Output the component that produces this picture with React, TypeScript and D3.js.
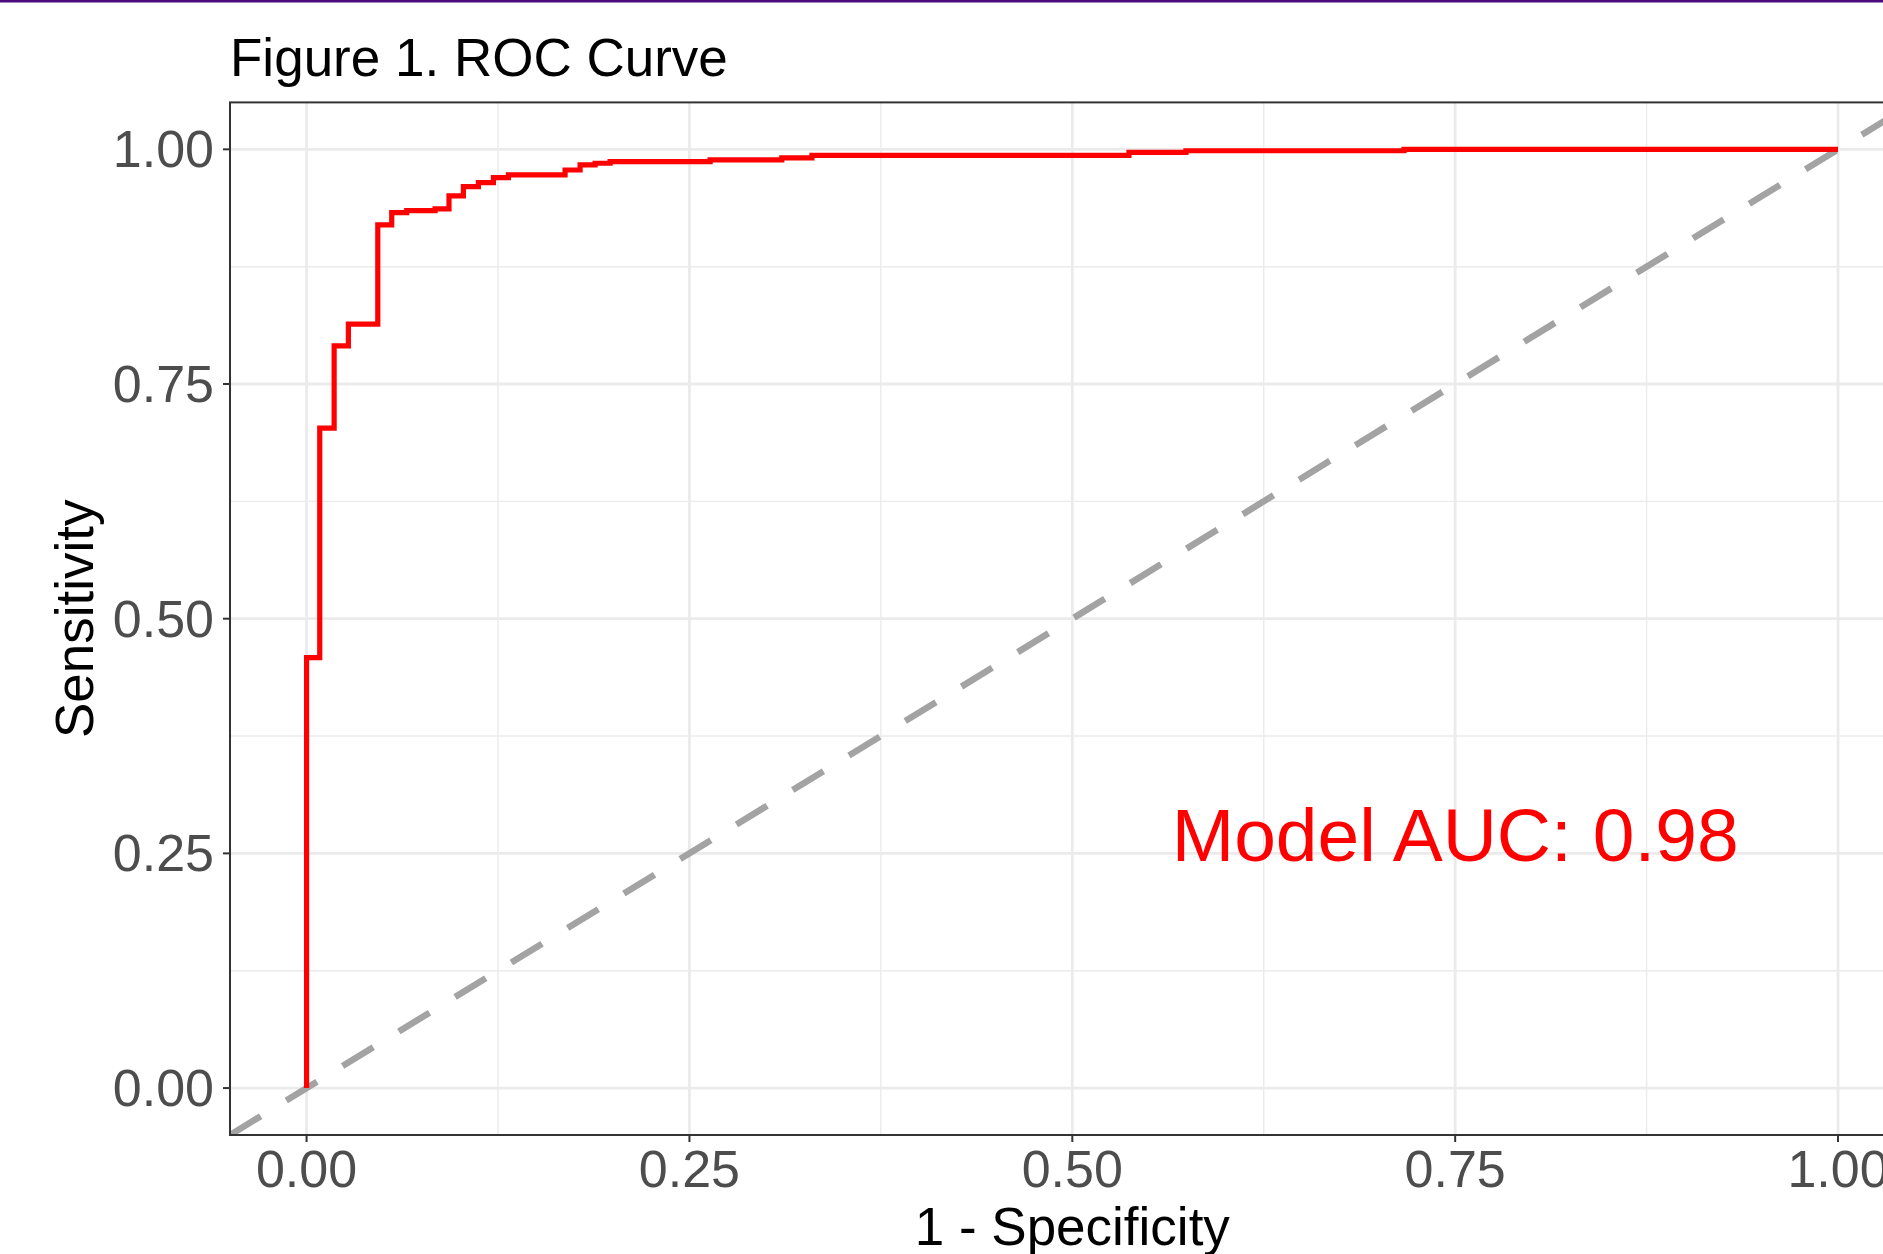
import { useEffect, useRef } from "react";
import * as d3 from "d3";

// ROC step corners (1 - specificity, sensitivity)
const fpr = [0, 0, 0.0086, 0.018, 0.0273, 0.0465, 0.0556, 0.0654, 0.0839, 0.093, 0.1024, 0.1122, 0.122, 0.1318, 0.1688, 0.1786, 0.1884, 0.1982, 0.2635, 0.3103, 0.33, 0.537, 0.5742, 0.7166, 1.0];
const tpr = [0, 0.4586, 0.703, 0.7906, 0.8138, 0.9195, 0.9326, 0.9347, 0.9365, 0.9504, 0.9603, 0.9645, 0.9699, 0.9727, 0.978, 0.9834, 0.9852, 0.987, 0.9887, 0.9908, 0.9935, 0.9968, 0.9985, 1.0, 1.0];

const majorTicks = [0, 0.25, 0.5, 0.75, 1];
const minorTicks = [0.125, 0.375, 0.625, 0.875];
const aucLabel = "Model AUC: 0.98";
const aucPos = [0.75, 0.27];
const diagonal = [-0.05, 1.2];

const FONT = "'Liberation Sans', Arial, Helvetica, sans-serif";

const App = () => {
  const ref = useRef<SVGSVGElement>(null);

  useEffect(() => {
    const width = 1883;
    const height = 1254;
    const left = 230;
    const right = 1914.6;
    const top = 102.4;
    const bottom = 1135;

    const x = d3.scaleLinear().domain([-0.05, 1.05]).range([left, right]);
    const y = d3.scaleLinear().domain([-0.05, 1.05]).range([bottom, top]);

    const svg = d3.select(ref.current)
      .attr("width", width)
      .attr("height", height)
      .attr("viewBox", [0, 0, width, height]);

    svg.selectAll("*").remove();

    svg.append("rect").attr("width", width).attr("height", height).attr("fill", "white");
    svg.append("rect").attr("x", 0).attr("y", 0).attr("width", width).attr("height", 2.5).attr("fill", "#4B0A7D");

    svg.append("defs").append("clipPath").attr("id", "panel-clip")
      .append("rect").attr("x", left).attr("y", top).attr("width", right - left).attr("height", bottom - top);

    const panel = svg.append("g").attr("clip-path", "url(#panel-clip)");

    // grid
    panel.append("g").selectAll("line.vminor").data(minorTicks).join("line")
      .attr("x1", (d) => x(d)).attr("x2", (d) => x(d)).attr("y1", top).attr("y2", bottom)
      .attr("stroke", "#EBEBEB").attr("stroke-width", 1.4);
    panel.append("g").selectAll("line.hminor").data(minorTicks).join("line")
      .attr("y1", (d) => y(d)).attr("y2", (d) => y(d)).attr("x1", left).attr("x2", right)
      .attr("stroke", "#EBEBEB").attr("stroke-width", 1.4);
    panel.append("g").selectAll("line.vmajor").data(majorTicks).join("line")
      .attr("x1", (d) => x(d)).attr("x2", (d) => x(d)).attr("y1", top).attr("y2", bottom)
      .attr("stroke", "#EBEBEB").attr("stroke-width", 2.8);
    panel.append("g").selectAll("line.hmajor").data(majorTicks).join("line")
      .attr("y1", (d) => y(d)).attr("y2", (d) => y(d)).attr("x1", left).attr("x2", right)
      .attr("stroke", "#EBEBEB").attr("stroke-width", 2.8);

    // reference diagonal
    panel.append("line")
      .attr("x1", x(diagonal[0])).attr("y1", y(diagonal[0]))
      .attr("x2", x(diagonal[1])).attr("y2", y(diagonal[1]))
      .attr("stroke", "#A3A3A3").attr("stroke-width", 6.5)
      .attr("stroke-dasharray", "36,30");

    // roc curve
    const pts = fpr.map((f, i) => [f, tpr[i]] as [number, number]);
    const line = d3.line<[number, number]>()
      .x((d) => x(d[0]))
      .y((d) => y(d[1]))
      .curve(d3.curveStepAfter);
    panel.append("path")
      .attr("d", line(pts))
      .attr("fill", "none")
      .attr("stroke", "#FF0000")
      .attr("stroke-width", 5.2)
      .attr("stroke-linejoin", "miter");

    panel.append("text")
      .attr("x", x(aucPos[0])).attr("y", y(aucPos[1]))
      .attr("text-anchor", "middle").attr("dominant-baseline", "central")
      .attr("font-family", FONT).attr("font-size", 75).attr("fill", "#FF0000")
      .text(aucLabel);

    // border
    svg.append("rect")
      .attr("x", left).attr("y", top).attr("width", right - left).attr("height", bottom - top)
      .attr("fill", "none").attr("stroke", "#333333").attr("stroke-width", 2);

    // ticks
    svg.append("g").selectAll("line").data(majorTicks).join("line")
      .attr("x1", left - 7).attr("x2", left).attr("y1", (d) => y(d)).attr("y2", (d) => y(d))
      .attr("stroke", "#333333").attr("stroke-width", 2);
    svg.append("g").selectAll("line").data(majorTicks).join("line")
      .attr("y1", bottom).attr("y2", bottom + 7).attr("x1", (d) => x(d)).attr("x2", (d) => x(d))
      .attr("stroke", "#333333").attr("stroke-width", 2);

    const fmt = d3.format(".2f");
    svg.append("g").selectAll("text").data(majorTicks).join("text")
      .attr("x", left - 16).attr("y", (d) => y(d))
      .attr("text-anchor", "end").attr("dominant-baseline", "central")
      .attr("font-family", FONT).attr("font-size", 52).attr("fill", "#4D4D4D")
      .text((d) => fmt(d));
    svg.append("g").selectAll("text").data(majorTicks).join("text")
      .attr("x", (d) => x(d)).attr("y", 1187)
      .attr("text-anchor", "middle")
      .attr("font-family", FONT).attr("font-size", 52).attr("fill", "#4D4D4D")
      .text((d) => fmt(d));

    // titles
    svg.append("text")
      .attr("x", (left + right) / 2).attr("y", 1245)
      .attr("text-anchor", "middle")
      .attr("font-family", FONT).attr("font-size", 53).attr("fill", "black")
      .text("1 - Specificity");
    svg.append("text")
      .attr("transform", `translate(93,${(top + bottom) / 2}) rotate(-90)`)
      .attr("text-anchor", "middle")
      .attr("font-family", FONT).attr("font-size", 53).attr("fill", "black")
      .text("Sensitivity");
    svg.append("text")
      .attr("x", left).attr("y", 76)
      .attr("font-family", FONT).attr("font-size", 53).attr("fill", "black")
      .text("Figure 1. ROC Curve");
  }, []);

  return (
    <div style={{ position: "absolute", left: 0, top: 0 }}>
      <svg ref={ref} style={{ display: "block" }}></svg>
    </div>
  );
};

export default App;
